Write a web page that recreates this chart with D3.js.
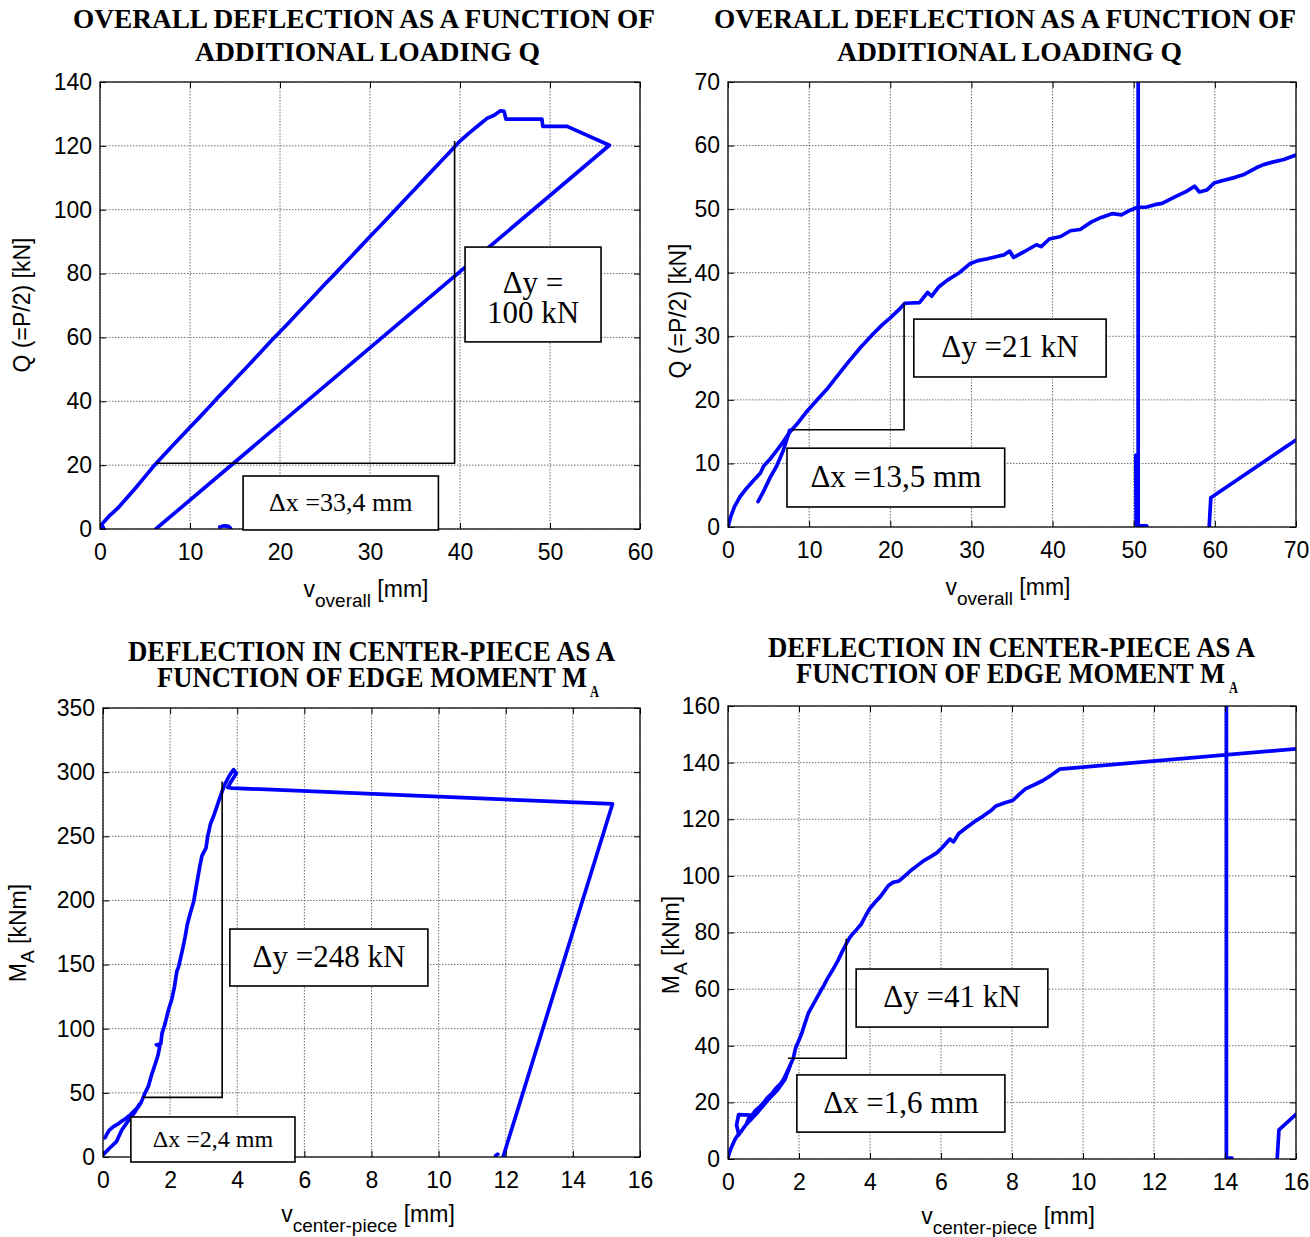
<!DOCTYPE html>
<html>
<head>
<meta charset="utf-8">
<script src="https://cdn.jsdelivr.net/npm/d3@7"></script>
<style>
  body { margin: 0; background: #fff; }
  svg { display: block; }
</style>
</head>
<body>
<svg id="chart" width="1310" height="1237"></svg>
<script>
// ---------- data ----------
const ticksQ60 = [0, 10, 20, 30, 40, 50, 60];
const ticksQ70 = [0, 10, 20, 30, 40, 50, 60, 70];
const ticksQ140 = [0, 20, 40, 60, 80, 100, 120, 140];
const ticksQ70y = [0, 10, 20, 30, 40, 50, 60, 70];
const ticksV16 = [0, 2, 4, 6, 8, 10, 12, 14, 16];
const ticksM350 = [0, 50, 100, 150, 200, 250, 300, 350];
const ticksM160 = [0, 20, 40, 60, 80, 100, 120, 140, 160];

// panel 1 : Q vs v_overall (0..60)
const q1Curve = [[0,0],[0.2,1.5],[0.5,2.4],[1,4],[1.5,5.3],[2,6.6],[3,9.8],[4,13],[5,16.4],[6,19.8],[7,22.9],
  [8,25.9],[9,28.9],[10,31.9],[11,34.8],[12,37.8],[13,40.9],[14,43.8],[15,46.8],[16,49.8],[17,52.8],[18,55.8],
  [19,58.9],[20,61.8],[21,64.7],[22,67.7],[23,70.7],[24,73.7],[25,76.7],[26,79.6],[27,82.6],[28,85.6],[29,88.6],
  [30,91.6],[31,94.5],[32,97.5],[33,100.5],[34,103.5],[35,106.5],[36,109.5],[37,112.5],[38,115.5],[39,118.5],
  [40,121.5],[41,124],[42,126.3],[43,128.6],[43.8,129.6],[44.5,131],[44.9,130.8],[45.1,128.4],[49.1,128.4],
  [49.2,126.1],[51.9,126.1],[56.6,120.2],[6.2,0]];
const q1Blob = [[13.3,0.6],[13.8,1],[14.3,0.8],[14.5,0.2]];
const q1Origin = [[0,0],[0.3,0.8],[0.4,0.2]];
const q1Guide = [[6.2,20.6],[39.4,20.6],[39.4,121.5]];

// panel 2 : Q vs v_overall (0..70)
const q2Curve = [[0,0],[0.3,1.5],[0.8,3.2],[1.5,4.8],[2.3,6.1],[3.2,7.4],[4,8.5],[4.4,9.6],[5.2,10.7],[6,12],
  [6.8,13.4],[7.6,14.9],[8.5,16.2],[9.6,18],[11,20],[12.2,21.7],[13.5,23.8],[14.8,25.9],[16.3,28.2],[17.9,30.4],
  [19,31.8],[20,32.9],[21,34.1],[21.8,35.2],[23.6,35.3],[24.6,36.9],[25.1,36.3],[26,37.8],[27,38.8],[28.5,40],
  [29.8,41.4],[30.8,41.9],[32,42.2],[33,42.5],[34,42.8],[34.7,43.4],[35.2,42.4],[36.5,43.3],[38,44.4],[38.6,44.1],
  [39.6,45.3],[41,45.7],[42.2,46.6],[43.4,46.8],[44.8,48],[46,48.7],[47.4,49.3],[48.5,49.1],[49.5,49.8],[50.5,50.3],
  [51.5,50.3],[52.6,50.7],[53.5,50.9],[55.2,52],[56.5,52.8],[57.5,53.6],[58.1,52.7],[59,53],[59.9,54.1],[61,54.5],
  [62.5,55],[63.5,55.4],[65.1,56.5],[66,57],[67.1,57.4],[68.5,57.8],[70,58.5]];
const q2Reload = [[3.7,4],[4.3,5.4],[5.2,7.8],[6,9.6],[6.8,12],[7.6,15.2]];
const q2Drop = [[50.55,75],[50.55,0.2],[51.6,0.2]];
const q2DropThin = [[50.25,11.3],[50.3,0]];
const q2Tail = [[59.3,0],[59.5,4.6],[70,13.7]];
const q2Guide = [[7.9,15.3],[21.7,15.3],[21.7,35.3]];

// panel 3 : M_A vs v_center-piece (0..16, 0..350)
const m3Lower = [[0,1.5],[0.05,3],[0.2,7],[0.4,12],[0.56,21],[0.8,30],[0.95,35],[1.07,40.7]];
const m3Curve = [[0.06,15],[0.12,18],[0.19,21],[0.3,23.5],[0.44,25.6],[0.55,27.8],[0.69,30.2],[0.82,33],
  [0.94,36.2],[1.05,39],[1.13,42.2],[1.25,49.8],[1.35,55],[1.44,63.4],[1.55,72],[1.63,78.5],[1.69,86],[1.59,87.5],
  [1.72,88],[1.76,96.6],[1.85,104],[1.95,114.7],[2.05,123],[2.13,132.8],[2.2,144.8],[2.25,148],[2.38,163],
  [2.45,172],[2.51,181],[2.6,190],[2.7,199],[2.76,208],[2.82,217],[2.88,226],[2.95,235],[3.07,241],[3.12,250],
  [3.2,259.5],[3.3,266],[3.45,277.6],[3.55,285],[3.64,291],[3.76,297],[3.89,302],[3.97,299],[3.8,292],
  [3.72,288],[3.85,287.6],[15.18,275.2],[11.92,0]];
const m3Dot = [[11.7,1],[11.76,2.2]];
const m3Guide = [[1.19,46.5],[3.55,46.5],[3.55,292.7]];

// panel 4 : M_A vs v_center-piece (0..16, 0..160)
const m4Curve = [[0,0.5],[0.06,3],[0.12,4.8],[0.2,7],[0.3,8.9],[0.24,12],[0.3,15.7],[0.62,15.5],[0.54,13],
  [0.65,15],[0.77,17.1],[0.9,18.5],[1.01,19.9],[1.1,21.5],[1.25,23.3],[1.35,25],[1.49,26.7],[1.6,29],[1.72,32.2],
  [1.84,35.6],[1.9,39],[2,42],[2.08,44.5],[2.17,48],[2.26,51.4],[2.35,53.5],[2.44,55.5],[2.53,57.5],[2.62,59.6],
  [2.71,61.5],[2.8,63.7],[2.95,66.8],[3.09,69.9],[3.2,72.8],[3.33,76],[3.42,78],[3.51,79.5],[3.62,81],[3.75,82.9],
  [3.88,86],[3.99,88.4],[4.13,90.5],[4.28,92.5],[4.4,94.5],[4.52,96.6],[4.65,97.7],[4.82,98.2],[5,100.2],
  [5.17,102.1],[5.35,103.8],[5.53,105.5],[5.7,106.7],[5.89,108.2],[6.05,110.2],[6.25,113],[6.35,112],[6.5,115],
  [6.72,117.1],[6.95,119.2],[7.2,121.2],[7.4,123],[7.55,124.7],[7.8,125.8],[8.03,126.7],[8.2,128.8],[8.39,130.8],
  [8.6,132],[8.86,133.6],[9.1,135.5],[9.34,137.7],[16.3,145.2]];
const m4Branch = [[0.3,8.5],[0.5,12],[0.8,16],[1.1,20.5],[1.4,24.5],[1.6,28],[1.75,33]];
const m4Drop = [[14.04,170],[14.04,0.3],[14.2,0.3]];
const m4Tail = [[15.47,0],[15.52,10.3],[16,15.8]];
const m4Guide = [[1.69,35.6],[3.33,35.6],[3.33,77.8]];

// ---------- layout ----------
const panels = [
  { id: 1, left: 100, right: 640, top: 82, bottom: 529,
    xDomain: [0, 60], yDomain: [0, 140], xTicks: ticksQ60, yTicks: ticksQ140,
    series: [q1Curve, q1Blob, q1Origin], guide: q1Guide,
    title: [{ t: "OVERALL DEFLECTION AS A FUNCTION OF", x0: 73, x1: 655, y: 28, fs: 27 },
            { t: "ADDITIONAL LOADING Q", x0: 195, x1: 540, y: 61, fs: 27 }],
    xlab: { main: "v", sub: "overall", x: 366, y: 597 },
    ylab: { main: "Q (=P/2) [kN]", x: 30, y: 305 },
    boxes: [{ lines: ["\u0394y =", "100 kN"], x0: 40.56, x1: 55.67, y0: 58.6, y1: 88.3, fs: 31 },
            { lines: ["\u0394x =33,4 mm"], x0: 15.9, x1: 37.6, y0: -0.3, y1: 16.6, fs: 26 }] },
  { id: 2, left: 728, right: 1296, top: 82, bottom: 527,
    xDomain: [0, 70], yDomain: [0, 70], xTicks: ticksQ70, yTicks: ticksQ70y,
    series: [q2Curve, q2Reload, q2Drop, q2DropThin, q2Tail], guide: q2Guide,
    title: [{ t: "OVERALL DEFLECTION AS A FUNCTION OF", x0: 714, x1: 1296, y: 28, fs: 27 },
            { t: "ADDITIONAL LOADING Q", x0: 837, x1: 1182, y: 61, fs: 27 }],
    xlab: { main: "v", sub: "overall", x: 1008, y: 595 },
    ylab: { main: "Q (=P/2) [kN]", x: 686, y: 311 },
    boxes: [{ lines: ["\u0394y =21 kN"], x0: 22.9, x1: 46.6, y0: 23.6, y1: 32.7, fs: 31 },
            { lines: ["\u0394x =13,5 mm"], x0: 7.27, x1: 34.1, y0: 3.15, y1: 12.4, fs: 31 }] },
  { id: 3, left: 103, right: 640, top: 708, bottom: 1157,
    xDomain: [0, 16], yDomain: [0, 350], xTicks: ticksV16, yTicks: ticksM350,
    series: [m3Lower, m3Curve, m3Dot], guide: m3Guide,
    title: [{ t: "DEFLECTION IN CENTER-PIECE AS A", x0: 128, x1: 615, y: 661, fs: 29 },
            { t: "FUNCTION OF EDGE MOMENT M", x0: 157, x1: 587, y: 687, fs: 29, sub: "A", sx0: 590, sx1: 599, sy: 697 }],
    xlab: { main: "v", sub: "center-piece", x: 368, y: 1222 },
    ylab: { main: "M", sub: "A", rest: " [kNm]", x: 26, y: 933 },
    boxes: [{ lines: ["\u0394y =248 kN"], x0: 3.78, x1: 9.68, y0: 133.3, y1: 177.7, fs: 31 },
            { lines: ["\u0394x =2,4 mm"], x0: 0.83, x1: 5.72, y0: -3.9, y1: 31.2, fs: 24 }] },
  { id: 4, left: 728, right: 1296, top: 706, bottom: 1159,
    xDomain: [0, 16], yDomain: [0, 160], xTicks: ticksV16, yTicks: ticksM160,
    series: [m4Curve, m4Branch, m4Drop, m4Tail], guide: m4Guide,
    title: [{ t: "DEFLECTION IN CENTER-PIECE AS A", x0: 768, x1: 1255, y: 657, fs: 29 },
            { t: "FUNCTION OF EDGE MOMENT M", x0: 796, x1: 1225, y: 683, fs: 29, sub: "A", sx0: 1229, sx1: 1238, sy: 693 }],
    xlab: { main: "v", sub: "center-piece", x: 1008, y: 1224 },
    ylab: { main: "M", sub: "A", rest: " [kNm]", x: 679, y: 945 },
    boxes: [{ lines: ["\u0394y =41 kN"], x0: 3.61, x1: 9.01, y0: 46.6, y1: 67.1, fs: 31 },
            { lines: ["\u0394x =1,6 mm"], x0: 1.94, x1: 7.8, y0: 9.5, y1: 29.7, fs: 31 }] }
];

const svg = d3.select("#chart");
const sans = "'Liberation Sans', Arial, sans-serif";
const serif = "'Liberation Serif', 'Times New Roman', serif";
const blue = "#0000ff";

function drawPanel(p) {
  const x = d3.scaleLinear().domain(p.xDomain).range([p.left, p.right]);
  const y = d3.scaleLinear().domain(p.yDomain).range([p.bottom, p.top]);
  const g = svg.append("g");

  // grid
  g.append("g").selectAll("line").data(p.xTicks).join("line")
    .attr("x1", d => x(d)).attr("x2", d => x(d))
    .attr("y1", p.top).attr("y2", p.bottom)
    .attr("stroke", "#6e6e6e").attr("stroke-width", 1).attr("stroke-dasharray", "1.5,1.5");
  g.append("g").selectAll("line").data(p.yTicks).join("line")
    .attr("x1", p.left).attr("x2", p.right)
    .attr("y1", d => y(d)).attr("y2", d => y(d))
    .attr("stroke", "#6e6e6e").attr("stroke-width", 1).attr("stroke-dasharray", "1.5,1.5");

  // clip
  svg.append("clipPath").attr("id", "clip" + p.id).append("rect")
    .attr("x", p.left).attr("y", p.top)
    .attr("width", p.right - p.left).attr("height", p.bottom - p.top);

  const line = d3.line().x(d => x(d[0])).y(d => y(d[1]));

  g.append("g").attr("clip-path", `url(#clip${p.id})`)
    .selectAll("path").data(p.series).join("path")
    .attr("d", line)
    .attr("fill", "none").attr("stroke", blue).attr("stroke-width", 3.7)
    .attr("stroke-linejoin", "round").attr("stroke-linecap", "round");

  // axes (ticks inside on all four sides)
  const fmt = d3.format("d");
  const ax = [
    d3.axisBottom(x).tickValues(p.xTicks).tickFormat(fmt).tickSize(-6).tickPadding(15),
    d3.axisTop(x).tickValues(p.xTicks).tickFormat("").tickSize(-6),
    d3.axisLeft(y).tickValues(p.yTicks).tickFormat(fmt).tickSize(-6).tickPadding(8),
    d3.axisRight(y).tickValues(p.yTicks).tickFormat("").tickSize(-6)
  ];
  const pos = [[0, p.bottom], [0, p.top], [p.left, 0], [p.right, 0]];
  ax.forEach((a, i) => {
    const ag = g.append("g").attr("transform", `translate(${pos[i][0]},${pos[i][1]})`).call(a);
    ag.select(".domain").remove();
    ag.selectAll("line").attr("stroke", "#000").attr("stroke-width", 1);
    ag.selectAll("text").attr("font-family", sans).attr("font-size", 23).attr("fill", "#000");
  });
  g.append("rect")
    .attr("x", p.left).attr("y", p.top)
    .attr("width", p.right - p.left).attr("height", p.bottom - p.top)
    .attr("fill", "none").attr("stroke", "#000").attr("stroke-width", 1.2);

  // slope guide
  g.append("path").datum(p.guide).attr("d", line)
    .attr("fill", "none").attr("stroke", "#000").attr("stroke-width", 1.6);

  // annotation boxes
  p.boxes.forEach(b => {
    const bx0 = x(b.x0), bx1 = x(b.x1), by0 = y(b.y1), by1 = y(b.y0);
    g.append("rect").attr("x", bx0).attr("y", by0)
      .attr("width", bx1 - bx0).attr("height", by1 - by0)
      .attr("fill", "#fff").attr("stroke", "#000").attr("stroke-width", 1.6);
    const cx = (bx0 + bx1) / 2, cy = (by0 + by1) / 2;
    const n = b.lines.length;
    b.lines.forEach((t, i) => {
      const base = n === 1 ? cy + 0.3 * b.fs : cy - 1.5 + i * 30;
      g.append("text").attr("x", cx).attr("y", base)
        .attr("text-anchor", "middle")
        .attr("font-family", serif).attr("font-size", b.fs).attr("fill", "#000")
        .text(t);
    });
  });

  // title
  p.title.forEach(t => {
    g.append("text").attr("x", t.x0).attr("y", t.y)
      .attr("font-family", serif).attr("font-weight", "bold").attr("font-size", t.fs)
      .attr("textLength", t.x1 - t.x0).attr("lengthAdjust", "spacingAndGlyphs")
      .text(t.t);
    if (t.sub) {
      g.append("text").attr("x", t.sx0).attr("y", t.sy)
        .attr("font-family", serif).attr("font-weight", "bold").attr("font-size", 17)
        .attr("textLength", t.sx1 - t.sx0).attr("lengthAdjust", "spacingAndGlyphs")
        .text(t.sub);
    }
  });

  // x label
  const xl = g.append("text").attr("x", p.xlab.x).attr("y", p.xlab.y)
    .attr("text-anchor", "middle").attr("font-family", sans).attr("font-size", 23);
  xl.append("tspan").text(p.xlab.main);
  xl.append("tspan").attr("dy", 10).attr("font-size", 19).text(p.xlab.sub);
  xl.append("tspan").attr("dy", -10).text(" [mm]");

  // y label
  const yl = g.append("text")
    .attr("transform", `translate(${p.ylab.x},${p.ylab.y}) rotate(-90)`)
    .attr("text-anchor", "middle").attr("font-family", sans).attr("font-size", 23);
  yl.append("tspan").text(p.ylab.main);
  if (p.ylab.sub) {
    yl.append("tspan").attr("dy", 8).attr("font-size", 19).text(p.ylab.sub);
    yl.append("tspan").attr("dy", -8).text(p.ylab.rest);
  }
}

panels.forEach(drawPanel);
</script>
</body>
</html>
